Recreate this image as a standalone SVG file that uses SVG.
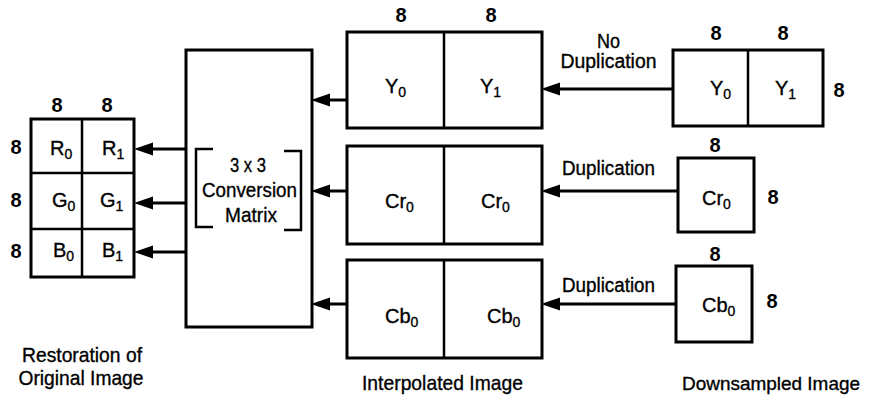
<svg xmlns="http://www.w3.org/2000/svg" width="872" height="397" viewBox="0 0 872 397">
<style>
  .box { fill: none; stroke: #000; stroke-width: 3; }
  .div { stroke: #000; stroke-width: 2.5; fill: none; }
  .conn { stroke: #000; stroke-width: 3; fill: none; marker-end: url(#arr); }
  text { font-family: "Liberation Sans", Arial, sans-serif; font-size: 20px; fill: #000; stroke: #000; stroke-width: 0.35; }
  .num { font-weight: bold; font-size: 20px; text-anchor: middle; stroke-width: 0; }
  .mid { text-anchor: middle; }
  .lbl { font-size: 21px; }
  .sub { font-size: 14px; }
</style>
<defs>
  <marker id="arr" markerUnits="userSpaceOnUse" markerWidth="20" markerHeight="14" refX="8" refY="6.5" orient="auto">
    <path d="M0,0 L19,6.5 L0,13 z" fill="#000"/>
  </marker>
</defs>
<rect width="872" height="397" fill="#fff"/>

<g id="rgb-grid">
  <rect class="box" x="31" y="119" width="103" height="158"/>
  <line class="div" x1="82" y1="119" x2="82" y2="277"/>
  <line class="div" x1="31" y1="173" x2="134" y2="173"/>
  <line class="div" x1="31" y1="229" x2="134" y2="229"/>
  <text class="num" x="57" y="112">8</text>
  <text class="num" x="107" y="112">8</text>
  <text class="num" x="16" y="154">8</text>
  <text class="num" x="16" y="207">8</text>
  <text class="num" x="16" y="258">8</text>
  <text x="50" y="155">R<tspan class="sub" dy="4">0</tspan></text>
  <text x="102" y="155">R<tspan class="sub" dy="4">1</tspan></text>
  <text x="52" y="207">G<tspan class="sub" dy="4">0</tspan></text>
  <text x="100" y="207">G<tspan class="sub" dy="4">1</tspan></text>
  <text x="53" y="257">B<tspan class="sub" dy="4">0</tspan></text>
  <text x="102" y="257">B<tspan class="sub" dy="4">1</tspan></text>
  <text class="mid lbl" x="82" y="362" textLength="120" lengthAdjust="spacingAndGlyphs">Restoration of</text>
  <text class="mid lbl" x="81" y="385" textLength="125" lengthAdjust="spacingAndGlyphs">Original Image</text>
</g>

<g id="conversion">
  <rect class="box" x="186" y="50" width="126" height="277"/>
  <path class="div" d="M213,149 H196 V227 H213"/>
  <path class="div" d="M284,151 H301 V230 H284"/>
  <text class="mid lbl" x="248" y="172" textLength="36" lengthAdjust="spacingAndGlyphs">3 x 3</text>
  <text class="mid lbl" x="249.5" y="197" textLength="95" lengthAdjust="spacingAndGlyphs">Conversion</text>
  <text class="mid lbl" x="251" y="222" textLength="52" lengthAdjust="spacingAndGlyphs">Matrix</text>
</g>

<g id="interp-y">
  <rect class="box" x="347" y="32" width="195" height="96"/>
  <line class="div" x1="444" y1="32" x2="444" y2="128"/>
  <text class="num" x="401" y="22">8</text>
  <text class="num" x="491" y="22">8</text>
  <text x="385" y="93">Y<tspan class="sub" dy="4">0</tspan></text>
  <text x="480" y="93">Y<tspan class="sub" dy="4">1</tspan></text>
</g>

<g id="interp-cr">
  <rect class="box" x="347" y="146" width="195" height="98"/>
  <line class="div" x1="444" y1="146" x2="444" y2="244"/>
  <text x="385" y="208">Cr<tspan class="sub" dy="4">0</tspan></text>
  <text x="481" y="208">Cr<tspan class="sub" dy="4">0</tspan></text>
</g>

<g id="interp-cb">
  <rect class="box" x="347" y="260" width="195" height="98"/>
  <line class="div" x1="444" y1="260" x2="444" y2="358"/>
  <text x="385" y="323">Cb<tspan class="sub" dy="4">0</tspan></text>
  <text x="487" y="323">Cb<tspan class="sub" dy="4">0</tspan></text>
  <text class="mid lbl" x="442.5" y="390" textLength="161" lengthAdjust="spacingAndGlyphs">Interpolated Image</text>
</g>

<g id="down-y">
  <rect class="box" x="673" y="50" width="150" height="76"/>
  <line class="div" x1="748" y1="50" x2="748" y2="126"/>
  <text class="num" x="716" y="40">8</text>
  <text class="num" x="783" y="40">8</text>
  <text class="num" x="839" y="97">8</text>
  <text x="710" y="95">Y<tspan class="sub" dy="4">0</tspan></text>
  <text x="775" y="95">Y<tspan class="sub" dy="4">1</tspan></text>
</g>

<g id="down-cr">
  <rect class="box" x="678" y="158" width="76" height="74"/>
  <text class="num" x="715" y="152">8</text>
  <text class="num" x="773" y="204">8</text>
  <text x="702" y="205">Cr<tspan class="sub" dy="4">0</tspan></text>
</g>

<g id="down-cb">
  <rect class="box" x="676" y="266" width="76" height="76"/>
  <text class="num" x="715" y="261">8</text>
  <text class="num" x="772" y="308">8</text>
  <text x="702" y="312">Cb<tspan class="sub" dy="4">0</tspan></text>
  <text class="mid" x="771" y="390" font-size="19" textLength="178" lengthAdjust="spacingAndGlyphs" style="font-size:19px">Downsampled Image</text>
</g>

<g id="connectors">
  <line class="conn" x1="186" y1="149" x2="145" y2="149"/>
  <line class="conn" x1="186" y1="203" x2="145" y2="203"/>
  <line class="conn" x1="186" y1="252" x2="145" y2="252"/>
  <line class="conn" x1="347" y1="100" x2="322" y2="100"/>
  <line class="conn" x1="347" y1="191" x2="322" y2="191"/>
  <line class="conn" x1="347" y1="304" x2="322" y2="304"/>
  <line class="conn" x1="673" y1="89" x2="552" y2="89"/>
  <line class="conn" x1="678" y1="191" x2="552" y2="191"/>
  <line class="conn" x1="676" y1="304" x2="552" y2="304"/>
  <text class="mid" x="608.5" y="48" textLength="23" lengthAdjust="spacingAndGlyphs">No</text>
  <text class="mid" x="608.5" y="68" textLength="96" lengthAdjust="spacingAndGlyphs">Duplication</text>
  <text class="mid" x="608.5" y="175" textLength="93" lengthAdjust="spacingAndGlyphs">Duplication</text>
  <text class="mid" x="608.5" y="292" textLength="93" lengthAdjust="spacingAndGlyphs">Duplication</text>
</g>
</svg>
